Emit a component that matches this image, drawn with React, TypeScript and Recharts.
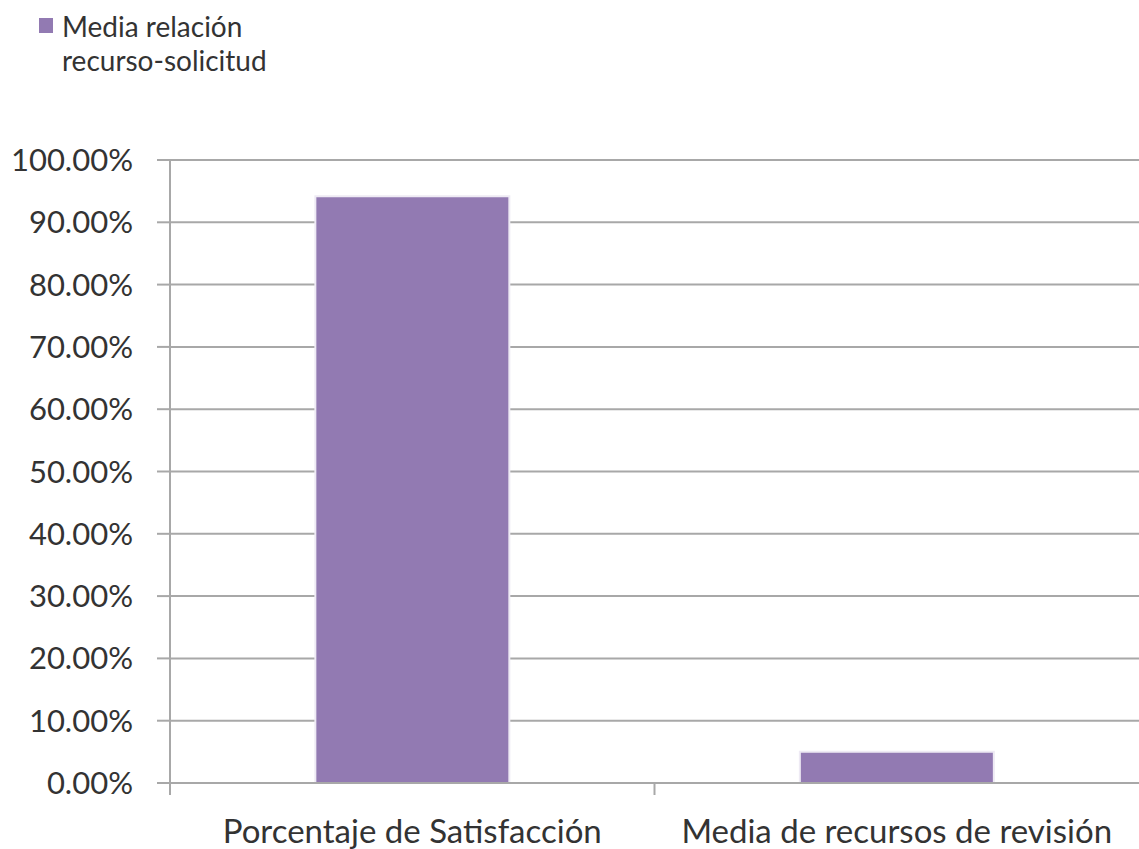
import React from 'react';
import { BarChart, Bar, XAxis, YAxis, CartesianGrid, Legend } from 'recharts';

const categories = ['Porcentaje de Satisfacción', 'Media de recursos de revisión'];
const seriesValues = [0.942, 0.05];
const yTicks = [0, 0.1, 0.2, 0.3, 0.4, 0.5, 0.6, 0.7, 0.8, 0.9, 1.0];
const seriesName = 'Media relación recurso-solicitud';

const data = categories.map((c, i) => ({ name: c, value: seriesValues[i] }));

const FONT = 'Lato, "Open Sans", sans-serif';
const TEXT = '#333333';
const GRID = '#A8A8A8';
const BAR = '#927AB2';

const XTick = (props: any) => {
  const { x, y, payload } = props;
  const off = payload?.offset ?? 0;
  return (
    <g>
      <line x1={x - off} y1={y - 8} x2={x - off} y2={y + 4} stroke={GRID} strokeWidth={2} />
      <text x={x} y={y + 52} textAnchor="middle" fill={TEXT} fontSize={33} fontFamily={FONT}>
        {payload.value}
      </text>
    </g>
  );
};

const LegendContent = () => (
  <div style={{ position: 'relative', width: 320, height: 80, fontFamily: FONT, fontSize: 28, color: TEXT }}>
    <div style={{ position: 'absolute', left: 39, top: 18, width: 14, height: 15, background: BAR }} />
    <div style={{ position: 'absolute', left: 62, top: 9, lineHeight: '34px', whiteSpace: 'nowrap' }}>
      <div>Media relación</div>
      <div>recurso-solicitud</div>
    </div>
  </div>
);

export default function App() {
  return (
    <div style={{ position: 'absolute', left: 0, top: 0, width: 1139, height: 849, background: '#fff' }}>
      <BarChart
        width={1139}
        height={849}
        data={data}
        margin={{ top: 80, right: 0, bottom: 0, left: 0 }}
        barCategoryGap="30%"
      >
        <Legend
          verticalAlign="top"
          align="left"
          content={<LegendContent />}
          wrapperStyle={{ position: 'absolute', top: 0, left: 0, width: 320, height: 80 }}
        />
        <CartesianGrid vertical={false} stroke={GRID} strokeWidth={2} />
        <XAxis
          dataKey="name"
          height={66}
          axisLine={{ stroke: GRID, strokeWidth: 2 }}
          tickLine={false}
          tick={<XTick />}
          interval={0}
        />
        <YAxis
          width={170}
          domain={[0, 1]}
          ticks={yTicks}
          tickFormatter={(v: number) => (v * 100).toFixed(2) + '%'}
          axisLine={{ stroke: GRID, strokeWidth: 2 }}
          tickLine={{ stroke: GRID, strokeWidth: 2 }}
          tickSize={13}
          tickMargin={24}
          tick={{ fill: TEXT, fontSize: 31, fontFamily: FONT }}
        />
        <Bar dataKey="value" name={seriesName} fill={BAR} stroke="#EEEAF4" strokeWidth={2} isAnimationActive={false} />
      </BarChart>
    </div>
  );
}
